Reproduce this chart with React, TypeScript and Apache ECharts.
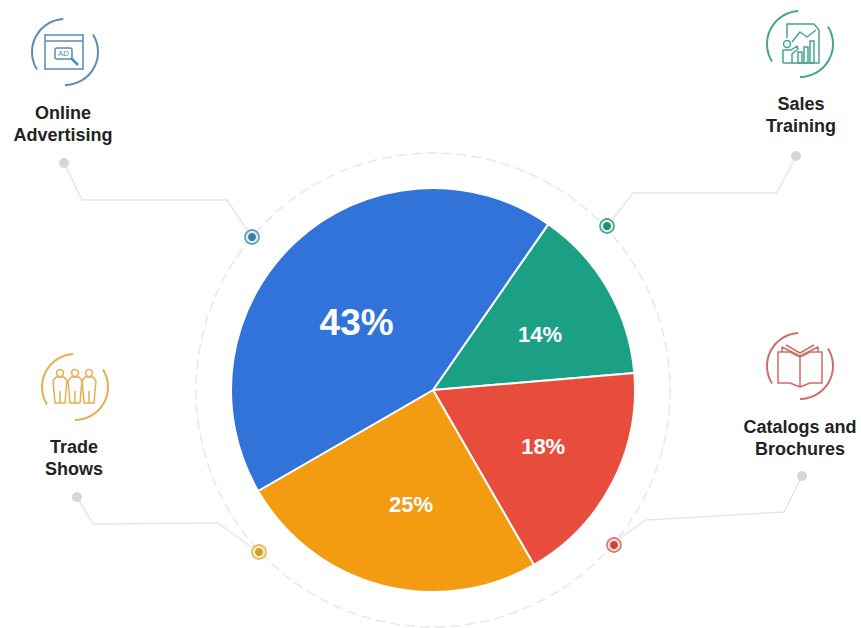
import React, { useEffect, useRef } from "react";
import * as echarts from "echarts";

const categories = ["Sales Training", "Catalogs and Brochures", "Trade Shows", "Online Advertising"];
const values = [14, 18, 25, 43];
const sliceColors = ["#1BA085", "#E74C3C", "#F39C12", "#3273D9"];
const labelSizes = [22, 22, 22, 37];
const labelShifts = [[17, -4], [18, 8], [5, 14], [-6, 9]];

const FONT = "'Liberation Sans', Arial, sans-serif";
const rad = (d: number) => (d * Math.PI) / 180;

function line(points: number[][], stroke: string, lineWidth = 1.5, z = 5) {
  return { type: "polyline", z, silent: true, shape: { points }, style: { stroke, fill: "none", lineWidth, lineJoin: "round" } };
}
function rect(x: number, y: number, w: number, h: number, stroke: string, r = 0, lineWidth = 1.5) {
  return { type: "rect", z: 5, silent: true, shape: { x, y, width: w, height: h, r }, style: { stroke, fill: "none", lineWidth } };
}
function circle(cx: number, cy: number, r: number, stroke: string, fill = "none", lineWidth = 1.5) {
  return { type: "circle", z: 5, silent: true, shape: { cx, cy, r }, style: { stroke, fill, lineWidth } };
}
function arcs(cx: number, cy: number, stroke: string) {
  const make = (a: number, b: number) => ({
    type: "arc", z: 5, silent: true,
    shape: { cx, cy, r: 33, startAngle: rad(a), endAngle: rad(b), clockwise: true },
    style: { stroke, fill: "none", lineWidth: 2 },
  });
  return [make(148, 267), make(-32, 90)];
}
function label(x: number, y: number, lines: string[]) {
  return {
    type: "text", z: 6, x, y, silent: true,
    style: { text: lines.join("\n"), fill: "#232323", font: `bold 18px ${FONT}`, lineHeight: 22, textAlign: "center", textVerticalAlign: "middle" },
  };
}
function leader(points: number[][]) {
  return [
    line(points, "#e6e6e6", 1.5, 2),
    circle(points[0][0], points[0][1], 5, "#d6d6d6", "#d6d6d6", 0),
  ];
}
function marker(cx: number, cy: number, color: string, ring: string, tint: string) {
  return [circle(cx, cy, 7, ring, tint, 1.6), circle(cx, cy, 4, color, color, 0)];
}
function person(cx: number, top: number, c: string) {
  return [
    circle(cx, top + 4, 3.5, c),
    line([[cx - 4, top + 8], [cx + 4, top + 8], [cx + 7, top + 12], [cx + 6, top + 22], [cx + 5, top + 34], [cx - 5, top + 34], [cx - 6, top + 22], [cx - 7, top + 12], [cx - 4, top + 8]], c),
    line([[cx, top + 22], [cx, top + 34]], c),
  ];
}

function buildGraphics() {
  const blue = "#5A8DB0", green = "#45A58E", gold = "#E6AE50", red = "#CB6F66";
  return [
    { type: "circle", z: 1, silent: true, shape: { cx: 433, cy: 390, r: 237 }, style: { fill: "none", stroke: "#e6e6e6", lineWidth: 1.4, lineDash: [10, 5] } },

    ...arcs(65, 52, blue),
    rect(45, 35, 38, 34, blue),
    line([[45, 41], [83, 41]], blue),
    rect(55, 48, 17, 11, blue, 2),
    { type: "text", z: 6, x: 63.5, y: 53.5, silent: true, style: { text: "AD", fill: blue, font: `8px ${FONT}`, textAlign: "center", textVerticalAlign: "middle" } },
    line([[71, 58], [78, 65]], "#3f8fd0", 2.5),

    label(63, 124, ["Online", "Advertising"]),
    label(801, 115, ["Sales", "Training"]),
    label(74, 458, ["Trade", "Shows"]),
    label(800, 438, ["Catalogs and", "Brochures"]),

    ...arcs(800, 44, green),
    line([[787, 38], [787, 24], [814, 24], [819, 30], [819, 63], [792, 63]], green),
    line([[792, 42], [800, 32], [807, 37], [816, 30]], green),
    rect(798, 52, 4, 11, green),
    rect(804, 47, 4, 16, green),
    rect(810, 41, 4, 22, green),
    circle(787, 44, 3.5, green),
    line([[783, 63], [783, 50], [791, 50], [797, 46], [798, 49], [792, 54], [792, 63], [783, 63]], green),

    ...arcs(75, 387, gold),
    ...person(60, 369, gold),
    ...person(75, 369, gold),
    ...person(89, 369, gold),

    ...arcs(800, 366, red),
    line([[800, 357], [790, 352], [778, 352], [778, 383], [790, 383], [800, 387], [810, 383], [822, 383], [822, 352], [810, 352], [800, 357], [800, 387]], red),
    line([[782, 352], [782, 347], [800, 356], [818, 347], [818, 352]], red),
    line([[786, 345], [800, 353], [814, 345]], red),

    ...leader([[64, 163], [82, 200], [227, 200], [247, 230]]),
    ...leader([[796, 156], [777, 193], [633, 193], [612, 220]]),
    ...leader([[77, 497], [93, 524], [218, 523], [251, 547]]),
    ...leader([[802, 476], [784, 512], [646, 520], [620, 538]]),

    ...marker(252, 237, "#3E7FA8", "#5A9BC2", "#dfeaf2"),
    ...marker(607, 226, "#1F8F78", "#45A58E", "#d9efe9"),
    ...marker(259, 552, "#C9A227", "#E6B850", "#f6ecc8"),
    ...marker(614, 545, "#C9473C", "#D9766B", "#f6dcd8"),
  ];
}

export default function App() {
  const ref = useRef<HTMLDivElement>(null);
  useEffect(() => {
    const chart = echarts.init(ref.current!, null, { renderer: "svg" });
    chart.setOption({
      animation: false,
      backgroundColor: "#ffffff",
      graphic: { elements: buildGraphics() },
      series: [
        {
          type: "pie",
          center: [433, 390],
          radius: [0, 202],
          startAngle: 55.2,
          clockwise: true,
          silent: true,
          z: 3,
          itemStyle: { borderColor: "#ffffff", borderWidth: 2 },
          label: { show: true, position: "inside", formatter: "{c}%", color: "#ffffff", fontFamily: FONT, fontWeight: "bold" },
          labelLine: { show: false },
          labelLayout: (params: any) => ({ dx: labelShifts[params.dataIndex][0], dy: labelShifts[params.dataIndex][1] }),
          data: categories.map((name, i) => ({
            name,
            value: values[i],
            itemStyle: { color: sliceColors[i] },
            label: { fontSize: labelSizes[i] },
          })),
        },
      ],
    });
    return () => chart.dispose();
  }, []);
  return <div ref={ref} style={{ position: "fixed", left: 0, top: 0, width: 861, height: 628 }} />;
}
